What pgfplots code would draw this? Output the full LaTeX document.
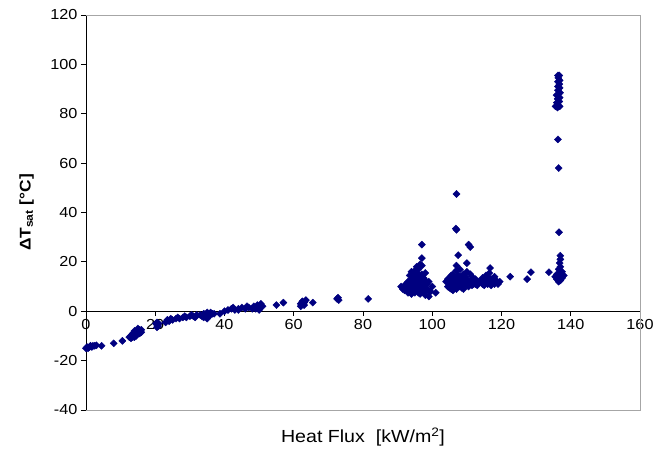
\documentclass[border=0pt]{standalone}
\usepackage{fontspec}
\setmainfont[FakeStretch=1.12]{Liberation Sans}
\usepackage{pgfplots}
\pgfplotsset{compat=1.18}
\definecolor{navy}{RGB}{0,0,128}
\begin{document}
\begin{tikzpicture}
\begin{axis}[name=ax, scale only axis, width=554pt, height=395pt,
 xmin=0, xmax=160, ymin=-40, ymax=120,
 axis x line=middle, axis y line=left,
 axis line style={black,-,line width=0.8pt},
 hide obscured x ticks=false, hide obscured y ticks=false,
 xtick={0,20,...,160}, ytick={-40,-20,...,120},
 tick align=outside, major tick length=5pt, tick style={black,line width=0.8pt},
 /pgf/number format/assume math mode=true,
 ticklabel style={font=\fontsize{14.5}{15}\selectfont},
 xlabel={Heat Flux\ \ [kW/m\textsuperscript{2}]},
 ylabel={\textbf{ΔT\textsubscript{sat} [°C]}},
 xlabel style={at={(axis description cs:0.5,0)}, anchor=north, yshift=-14pt, font=\fontsize{17.5}{18}\selectfont},
 ylabel style={at={(axis description cs:-0.107,0.5)}, anchor=center, font=\fontsize{15.5}{16}\selectfont},
 clip=false]
\draw[gray!70, line width=0.8pt] (rel axis cs:0,0) -- (rel axis cs:1,0) -- (rel axis cs:1,1) -- (rel axis cs:0,1);
\addplot[only marks, color=navy, mark=square*, mark size=2.5pt, mark options={rotate=45, fill=navy, draw=navy}] table {
x y
0 -15
0.3 -14.5
0.6 -15
1 -14.5
1.3 -14
1.7 -14.5
2 -14
2.5 -14
3 -13.8
4.5 -14
8 -13
10.5 -12
12.5 -10.5
13 -11
13 -10
13.5 -9
13.5 -10.5
14 -9.5
14 -10.5
14 -8
14.5 -8.5
14.5 -10
15 -8
15 -9
15 -7
15.5 -7.5
15.5 -9
16 -7.5
16 -8.5
20.2 -5
20.5 -4.5
20.5 -5.5
20.5 -6.5
20.8 -6
21 -5
23 -4.5
23.5 -3.5
24 -4
24.5 -3
25 -3.5
26 -3
26.5 -2.5
27 -3
28 -2.5
28.5 -2
29 -2.5
30 -2
30.5 -1.5
31 -2
31.5 -2.5
32 -1.5
33 -1.5
33.5 -2
34 -1
34 -2.5
34.5 -1.5
35 -0.5
35 -2
35 -3
35.5 -1
36 -1.5
36 -0.5
36.5 -1
37 -1
38.7 -1
40 0
41 0.5
42 1
42.5 1.5
43 0.5
44 1
44 0.5
45 1.5
46 1
46.5 2
47 1.5
48 1
48.5 2
49 1
49.5 2.5
50 1.5
50 0.5
50.5 3
51 2
55 2.5
57 3.5
62 3
62 2
62.5 4
63 3.5
63 2.5
63.5 4.5
65.5 3.5
72.5 5
73 4.5
72.8 5.5
81.5 5
91 10
91.5 9
92 10.5
92 8.5
92.5 11
92.5 9.5
93 9.5
93 12
93 7.5
93.5 8
93.5 11
93.5 14.5
94 10
94 13
94 16
94 7
94.5 11.5
94.5 8.5
94.5 14
95 14
95 10
95 7.5
95 12
95 16.5
95.5 12
95.5 9
95.5 15.5
95.5 18
96 9
96 11
96 13
96 17
96 7.5
96 15
96.5 7
96.5 10
96.5 12
96.5 14.5
96.5 19
97 8.5
97 10
97 12
97 15
97 18.5
97 21.5
97 27
97.5 8
97.5 11
97.5 13.5
98 6.5
98 10.5
98 8.5
98 12.5
98 15.5
98.5 9
98.5 11
99 6
99 8
99 12
99.5 8
100 10
101 7.5
104 12
104.5 10
104.5 13
105 13.5
105 11
105 9.5
105.5 9
105.5 12
105.5 14.5
106 12
106 15
106 8.5
106 10.5
106.5 10
106.5 13.5
107 13
107 11
107 9
107 16.5
107 18.5
107 33
106.8 33.5
107 47.5
107.5 11.5
107.5 22.7
107.5 14.5
108 14
108 10
108 12
108 17
108.5 12
108.5 9.5
109 9
109 11
109 13
109 15
109.5 11
109.5 14
110 13
110 10.5
110 16
110 19.5
110.5 10
110.5 12
110.5 27
111 12
111 26
111 15
111.5 14
111.5 10.5
112 11
112 13
112.5 13
112.5 11
113 10.5
113.5 12
114 12
114.5 11
114.5 13.5
115 13
115 10.5
115.5 12
115.5 14.5
116 14
116 11
116 12.5
116.5 12.5
116.5 15.5
116.7 17.5
117 13
117 10.5
117 11.5
117.5 12
118 11
118 14
118 12.5
118.5 12.5
119 11
119.5 12
122.5 14
127.4 13
128.5 15.8
133.7 15.8
135.5 14
136 13
136 15
136.5 12
136.5 14
136.5 17
137 12.5
137 15.5
137 18
136.8 19.5
137 21
137 22.5
137.5 13.5
137.5 16
138 14.5
136.6 32
136.5 58
136.3 69.6
135.6 83
136.2 82.5
136.8 83
136 84.5
136.7 85
136.2 86
136.8 86.5
135.9 87.5
136.5 88
136.9 88.5
136.3 89.5
136.8 90.5
136.3 91
136.7 92
136.3 93
136.8 93.5
136.4 94.5
136.7 95.5
136.3 95.5
};
\end{axis}
\path ([shift={(-86pt,-39pt)}]ax.south west) rectangle ([shift={(21pt,15pt)}]ax.north east);
\end{tikzpicture}
\end{document}
